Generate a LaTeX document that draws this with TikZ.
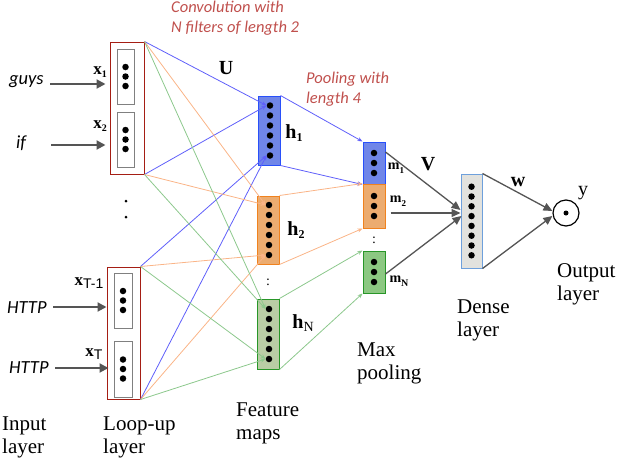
\documentclass[tikz,border=0pt]{standalone}
\usepackage{fontspec}
\setmainfont{Liberation Serif}
\newfontfamily\calib{Carlito}
\newfontfamily\helv{Liberation Sans}
\usetikzlibrary{arrows.meta,calc}
\definecolor{redT}{RGB}{192,80,77}
\definecolor{lkRed}{RGB}{165,30,20}
\definecolor{inGray}{RGB}{128,128,128}
\definecolor{blueF}{RGB}{112,134,232}
\definecolor{blueD}{RGB}{40,80,250}
\definecolor{orF}{RGB}{236,172,112}
\definecolor{orD}{RGB}{240,130,30}
\definecolor{grF}{RGB}{185,205,165}
\definecolor{grF2}{RGB}{140,200,130}
\definecolor{grD}{RGB}{40,150,40}
\definecolor{dnF}{RGB}{226,226,222}
\definecolor{dnD}{RGB}{110,160,220}
\definecolor{cBlue}{RGB}{95,95,250}
\definecolor{cOrange}{RGB}{250,180,135}
\definecolor{cGreen}{RGB}{140,200,140}
\definecolor{arrGray}{RGB}{85,85,85}
\newcommand{\lsub}[2]{\raisebox{-3.5pt}{\fontsize{#1}{#1}\selectfont #2}}
\begin{document}
\begin{tikzpicture}[x=1pt,y=-1pt,
  box/.style={draw, rectangle, inner sep=0, line width=1pt},
  lkbox/.style={box, draw=lkRed, fill=white},
  inbox/.style={box, draw=inGray, fill=white},
  dotn/.style={circle, fill=black, inner sep=0, minimum size=6.5pt},
  conn/.style={line width=0.8pt, -{Stealth[length=5pt,width=4pt]}},
  inarrow/.style={draw=arrGray, line width=2pt, -{Triangle[length=9pt,width=9pt]}},
  garrow/.style={draw=arrGray, line width=1.3pt, -{Triangle[length=9pt,width=8pt]}},
  lbl/.style={font=\fontsize{21}{23}\selectfont, align=left, anchor=north west, inner sep=0},
  inword/.style={font=\calib\itshape\fontsize{18.5}{18.5}\selectfont, anchor=west, inner sep=0},
  redtxt/.style={font=\calib\itshape\fontsize{16.5}{20}\selectfont, text=redT, align=left, anchor=north west, inner sep=0},
  bl/.style={font=\bfseries\fontsize{20}{20}\selectfont, inner sep=0},
  ml/.style={font=\bfseries\fontsize{14}{14}\selectfont, inner sep=0},
  xl/.style={font=\bfseries\fontsize{17}{17}\selectfont, inner sep=0}
]
\path[use as bounding box] (0,0) rectangle (620,466);

% lookup layer
\node[lkbox, minimum width=34pt, minimum height=132pt] (L1) at (127,108) {};
\node[inbox, minimum width=17pt, minimum height=55pt] (B1) at (125.5,76.5) {};
\node[inbox, minimum width=17pt, minimum height=55pt] (B2) at (125.5,139.5) {};
\node[lkbox, minimum width=33pt, minimum height=132pt] (L2) at (123.5,333) {};
\node[inbox, minimum width=18pt, minimum height=55pt] (B3) at (123,300.5) {};
\node[inbox, minimum width=18pt, minimum height=56pt] (B4) at (123,369) {};
\foreach \b in {B1,B2,B3,B4}{
  \foreach \i in {1,2,3}{
    \node[dotn] (\b-\i) at ($(\b.center)+(0,{(\i-2)*9.5})$) {};
  }
}
\node[circle, fill=black, inner sep=0, minimum size=3pt] (vd1) at (126,201) {};
\node[circle, fill=black, inner sep=0, minimum size=3pt] (vd2) at (126,217) {};

% feature maps
\node[box, draw=blueD, fill=blueF, minimum width=22pt, minimum height=69pt] (h1) at (269,130.5) {};
\node[box, draw=orD, fill=orF, minimum width=22pt, minimum height=68pt] (h2) at (268,230) {};
\node[box, draw=grD, fill=grF, minimum width=22pt, minimum height=70pt] (hN) at (268,334) {};
\foreach \h in {h1,h2,hN}{
  \foreach \i in {1,...,6}{
    \node[dotn] (\h-\i) at ($(\h.center)+(1,{(\i-3.5)*10})$) {};
  }
}
\node[font=\fontsize{14}{14}\selectfont, inner sep=0] (hdots) at (268,282) {:};

% max pooling
\node[box, draw=blueD, fill=blueF, minimum width=22pt, minimum height=42pt] (m1) at (374,163) {};
\node[box, draw=orD, fill=orF, minimum width=22pt, minimum height=44pt] (m2) at (374,206) {};
\node[box, draw=grD, fill=grF2, minimum width=22pt, minimum height=42pt] (mN) at (374,272) {};
\foreach \m in {m1,m2,mN}{
  \foreach \i in {1,2,3}{
    \node[dotn] (\m-\i) at ($(\m.center)+(0,{(\i-2)*10})$) {};
  }
}
\node[font=\fontsize{14}{14}\selectfont, inner sep=0] (mdots) at (374,240) {:};

% dense layer
\node[box, draw=dnD, fill=dnF, minimum width=21pt, minimum height=94pt] (D) at (471.5,221) {};
\foreach \i in {1,...,8}{
  \node[dotn] (D-\i) at ($(D.center)+(0,{(\i-4.5)*9.8})$) {};
}

% output
\node[circle, draw=black, line width=1.2pt, fill=white, minimum size=26pt, inner sep=0] (O) at (566,213) {};
\node[circle, fill=black, inner sep=0, minimum size=5pt] (Oc) at (O.center) {};

% connectors lookup -> feature maps
\foreach \h/\c in {h1/cBlue, h2/cOrange, hN/cGreen}{
  \draw[conn, color=\c] (L1.north east) -- (\h-1.west);
  \draw[conn, color=\c] (L1.south east) -- (\h-1.west);
  \draw[conn, color=\c] (L2.north east) -- (\h-6.west);
  \draw[conn, color=\c] (L2.south east) -- (\h-6.west);
}
% feature maps -> pooling
\foreach \h/\m/\c in {h1/m1/cBlue, h2/m2/cOrange, hN/mN/cGreen}{
  \draw[conn, color=\c] (\h.north east) -- (\m.north west);
  \draw[conn, color=\c] (\h.south east) -- (\m.south west);
}
% pooling -> dense
\draw[garrow] ($(m1.east)+(0,-11)$) -- ($(D.west)+(0,-11)$);
\draw[garrow] ($(m2.east)+(5,7)$) -- ($(D.west)+(0,-8)$);
\draw[garrow] ($(mN.east)+(0,2)$) -- ($(D.west)+(1,-5)$);
% dense -> output
\draw[garrow] (D.north east) -- ($(O.west)+(0,-2)$);
\draw[garrow] (D.south east) -- ($(O.west)+(0,3)$);

% inputs
\node[inword] (w1) at (9,82) {guys};
\node[inword] (w2) at (16,143) {if};
\node[inword] (w3) at (7,308) {HTTP};
\node[inword] (w4) at (9,368) {HTTP};
\coordinate (a1) at (50,84);
\coordinate (a2) at (51,145);
\coordinate (a3) at (53,307);
\coordinate (a4) at (55,368);
\draw[inarrow] (a1) -- ($(a1 -| L1.west)+(-4,0)$);
\draw[inarrow] (a2) -- ($(a2 -| L1.west)+(-4,0)$);
\draw[inarrow] (a3) -- ($(a3 -| L2.west)+(0,0)$);
\draw[inarrow] (a4) -- ($(a4 -| L2.west)+(2,0)$);

% vector labels
\node[xl] (x1) at (100,72) {x\lsub{10}{1}};
\node[xl] (x2) at (100,126) {x\lsub{10}{2}};
\node[xl] (xT1) at (89,283) {x\lsub{14}{\helv\mdseries T-1}};
\node[xl] (xT) at (94,354) {x\lsub{14}{\helv\mdseries T}};
\node[bl] (hl1) at (294,133) {h\lsub{12}{1}};
\node[bl] (hl2) at (296,230) {h\lsub{12}{2}};
\node[bl] (hlN) at (303,323) {h\lsub{14}{\mdseries N}};
\node[ml] (ml1) at (396,168) {m\lsub{9}{1}};
\node[ml] (ml2) at (398,201) {m\lsub{9}{2}};
\node[ml] (mlN) at (399,281) {m\lsub{10}{N}};
\node[bl] (U) at (226,68) {U};
\node[bl] (V) at (428,164) {V};
\node[bl] (W) at (518,182) {w};
\node[font=\fontsize{20}{20}\selectfont, inner sep=0] (y) at (583,193) {y};

% annotations
\node[redtxt] (conv) at (171,1) {Convolution with\\N filters of length 2};
\node[redtxt] (pool) at (306,72) {Pooling with\\length 4};

% layer labels
\node[lbl] (tIn) at (2,417) {Input\\layer};
\node[lbl] (tLk) at (103,417) {Loop-up\\layer};
\node[lbl] (tFm) at (236,403) {Feature\\maps};
\node[lbl] (tMp) at (357,343) {Max\\pooling};
\node[lbl] (tDn) at (457,300) {Dense\\layer};
\node[lbl] (tOut) at (557,263) {Output\\layer};
\end{tikzpicture}
\end{document}
